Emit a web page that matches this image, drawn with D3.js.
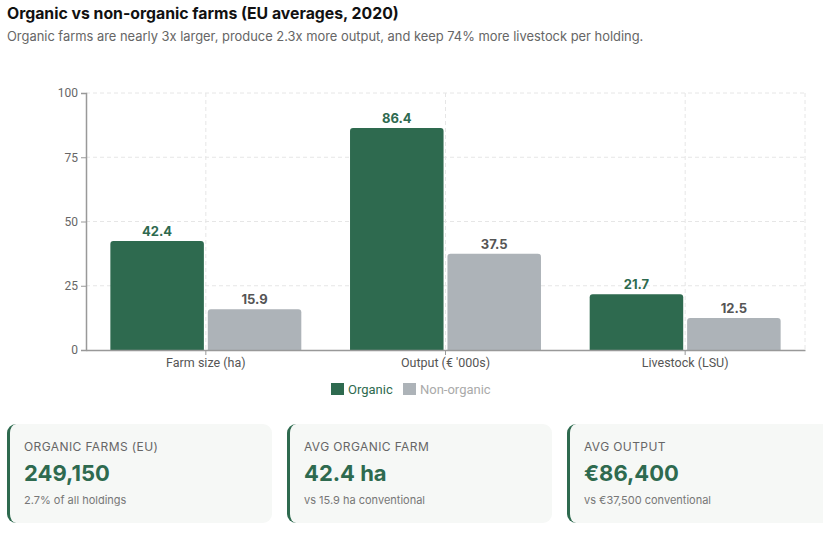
<!DOCTYPE html>
<html>
<head>
<meta charset="utf-8">
<script src="https://cdn.jsdelivr.net/npm/d3@7"></script>
<style>
  body { margin: 0; background: #fff; font-family: Inter, "Noto Sans", sans-serif; overflow: hidden; width: 823px; height: 535px; }
  .title { position: absolute; left: 7px; top: 4px; font-size: 15.8px; font-weight: 700; color: #111; }
  .sub { position: absolute; left: 7px; top: 29px; font-size: 12.9px; color: #666; }
  .cards { position: absolute; left: 7px; top: 424px; display: flex; gap: 15px; }
  .card { width: 248px; height: 85px; background: #f6f8f6; border-left: 3px solid #2e6a4f; border-radius: 9px; padding: 7px 0 7px 14px; flex: none; }
  .card .lab { font-size: 12px; color: #666; letter-spacing: 0.4px; margin-top: 8px; }
  .card .val { font-size: 22px; font-weight: 700; color: #2e6a4f; margin-top: 6px; }
  .card .note { font-size: 11px; color: #777; margin-top: 7px; }
  svg text { font-family: Roboto, sans-serif; }
</style>
</head>
<body>
<div class="title">Organic vs non-organic farms (EU averages, 2020)</div>
<div class="sub">Organic farms are nearly 3x larger, produce 2.3x more output, and keep 74% more livestock per holding.</div>
<div class="canvas"></div>
<div class="cards"></div>
<script>
const categories = ['Farm size (ha)', 'Output (€ \'000s)', 'Livestock (LSU)'];
const series = ['Organic', 'Non-organic'];
const organic = [42.4, 86.4, 21.7];
const nonOrganic = [15.9, 37.5, 12.5];
const yTicks = [0, 25, 50, 75, 100];
const cardLabels = ['ORGANIC FARMS (EU)', 'AVG ORGANIC FARM', 'AVG OUTPUT'];
const cardValues = ['249,150', '42.4 ha', '€86,400'];
const cardNotes = ['2.7% of all holdings', 'vs 15.9 ha conventional', 'vs €37,500 conventional'];

const colors = {'Organic': '#2e6a4f', 'Non-organic': '#adb3b8'};
const labelColors = {'Organic': '#2e6a4f', 'Non-organic': '#555'};

const dims = {width: 823, height: 415};
const margin = {left: 86, right: 18, top: 93, bottom: 65};

const svg = d3.select('.canvas')
  .append('svg')
  .style('position', 'absolute')
  .style('left', 0).style('top', 0)
  .attr('width', dims.width)
  .attr('height', dims.height);

const innerW = dims.width - margin.left - margin.right;
const innerH = dims.height - margin.top - margin.bottom;

const graph = svg.append('g')
  .attr('transform', `translate(${margin.left}, ${margin.top})`);

const x0 = d3.scaleBand().domain(categories).range([0, innerW]);
const x1 = d3.scaleBand().domain(series).range([0, x0.bandwidth()])
  .paddingInner(0.04).paddingOuter(0.25);
const y = d3.scaleLinear().domain([0, 100]).range([innerH, 0]);

// grid
graph.append('g').selectAll('line')
  .data(yTicks.slice(1))
  .enter().append('line')
  .attr('x1', 0).attr('x2', innerW)
  .attr('y1', d => y(d)).attr('y2', d => y(d))
  .attr('stroke', '#e6e6e6').attr('stroke-dasharray', '4,3');

const vLines = categories.map(c => x0(c) + x0.bandwidth() / 2).concat([innerW]);
graph.append('g').selectAll('line')
  .data(vLines)
  .enter().append('line')
  .attr('x1', d => d).attr('x2', d => d)
  .attr('y1', 0).attr('y2', innerH)
  .attr('stroke', '#e6e6e6').attr('stroke-dasharray', '4,3');

// data rows
const rows = categories.map((c, i) => ({cat: c, values: [
  {key: 'Organic', value: organic[i]},
  {key: 'Non-organic', value: nonOrganic[i]}
]}));

const groups = graph.selectAll('.grp')
  .data(rows)
  .enter().append('g')
  .attr('transform', d => `translate(${x0(d.cat)}, 0)`);

const r = 3;
groups.selectAll('path')
  .data(d => d.values)
  .enter().append('path')
  .attr('fill', d => colors[d.key])
  .attr('d', d => {
    const bx = x1(d.key), bw = x1.bandwidth(), by = y(d.value), b = y(0);
    return `M${bx},${b}V${by + r}Q${bx},${by} ${bx + r},${by}H${bx + bw - r}Q${bx + bw},${by} ${bx + bw},${by + r}V${b}Z`;
  });

groups.selectAll('text')
  .data(d => d.values)
  .enter().append('text')
  .attr('x', d => x1(d.key) + x1.bandwidth() / 2)
  .attr('y', d => y(d.value) - 5)
  .attr('text-anchor', 'middle')
  .attr('font-size', 13)
  .attr('font-weight', 700)
  .style('font-family', 'Inter, sans-serif')
  .attr('fill', d => labelColors[d.key])
  .text(d => d.value.toFixed(1));

// axes
const yAxis = graph.append('g')
  .call(d3.axisLeft(y).tickValues(yTicks).tickSize(5).tickPadding(3));
yAxis.select('.domain').attr('stroke', '#999').attr('stroke-width', 1.5);
yAxis.selectAll('.tick line').attr('stroke', '#999');
yAxis.selectAll('text').attr('fill', '#666').attr('font-size', 12);

const xAxis = graph.append('g')
  .attr('transform', `translate(0, ${innerH})`)
  .call(d3.axisBottom(x0).tickSize(5).tickSizeOuter(0).tickPadding(3));
xAxis.select('.domain').attr('stroke', '#999').attr('stroke-width', 1.5);
xAxis.selectAll('.tick line').attr('stroke', '#999');
xAxis.selectAll('text').attr('fill', '#555').attr('font-size', 12.5);

// legend
const legend = svg.append('g').attr('transform', 'translate(331, 383)');
const legItems = legend.selectAll('g')
  .data(series)
  .enter().append('g')
  .attr('transform', (d, i) => `translate(${i * 72}, 0)`);
legItems.append('rect')
  .attr('width', 13).attr('height', 12)
  .attr('fill', d => colors[d]);
legItems.append('text')
  .attr('x', 17).attr('y', 11)
  .attr('font-size', 13)
  .attr('fill', (d, i) => i === 0 ? '#2e6a4f' : '#aaa')
  .text(d => d);

// cards
const cards = d3.select('.cards').selectAll('.card')
  .data(cardLabels)
  .enter().append('div')
  .attr('class', 'card');
cards.append('div').attr('class', 'lab').text(d => d);
cards.append('div').attr('class', 'val').text((d, i) => cardValues[i]);
cards.append('div').attr('class', 'note').text((d, i) => cardNotes[i]);
</script>
</body>
</html>
